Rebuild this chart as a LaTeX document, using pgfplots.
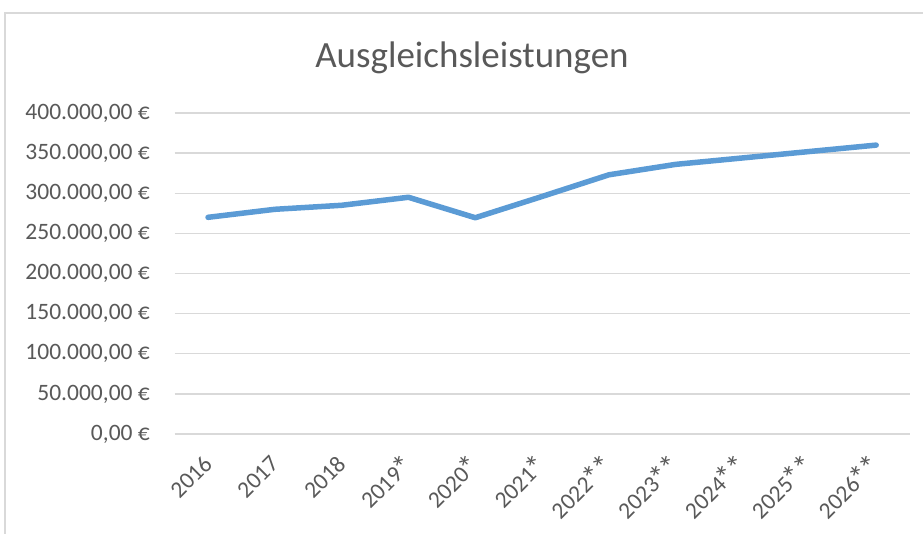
\documentclass[border=0pt]{standalone}
\usepackage{pgfplots}
\pgfplotsset{compat=1.18}
\usepackage{fontspec}
\setmainfont{Carlito}
\definecolor{txt}{HTML}{595959}
\definecolor{grd}{HTML}{D9D9D9}
\definecolor{ln}{HTML}{5B9BD5}
\newcommand{\st}{\kern-1.5pt\raisebox{-3pt}{\fontsize{32}{32}\selectfont *}}
\begin{document}
\begin{tikzpicture}
\path[use as bounding box] (-174.6pt,-99pt) rectangle (748.4pt,434pt);
\draw[grd, line width=1.2pt] (-169.6pt,-140pt) -- (-169.6pt,421pt) -- (800pt,421pt);
\begin{axis}[
  at={(0pt,0pt)}, anchor=south west,
  width=735pt, height=321pt, scale only axis,
  xmin=-0.5, xmax=10.5, ymin=0, ymax=400000,
  axis line style={draw=none},
  major tick length=0pt,
  ymajorgrids,
  grid style={draw=grd, line width=1.4pt},
  xtick={0,1,2,3,4,5,6,7,8,9,10},
  xticklabels={2016,2017,2018,{2019\st},{2020\st},{2021\st},{2022\st\st},{2023\st\st},{2024\st\st},{2025\st\st},{2026\st\st}},
  ytick={0,50000,100000,150000,200000,250000,300000,350000,400000},
  yticklabels={{0,00 €},{50.000,00 €},{100.000,00 €},{150.000,00 €},{200.000,00 €},{250.000,00 €},{300.000,00 €},{350.000,00 €},{400.000,00 €}},
  scaled y ticks=false,
  tick label style={font=\fontsize{23.5}{28}\selectfont, text=txt},
  yticklabel style={anchor=east, inner sep=0pt, xshift=-24.6pt},
  xticklabel style={xshift=0pt, yshift=-26pt, rotate=45, anchor=east, inner sep=0pt},
  clip=false,
]
\addplot[ln, line width=5.5pt, line join=round, line cap=round] coordinates {
  (0,270000) (1,280000) (2,285000) (3,295000) (4,269500) (5,296000)
  (6,323000) (7,336000) (8,344000) (9,352000) (10,360000)
};
\end{axis}
\node[anchor=base, text=txt, font=\fontsize{37}{44}\selectfont, inner sep=0pt] at (297.4pt,366pt) {Ausgleichsleistungen};
\end{tikzpicture}
\end{document}
